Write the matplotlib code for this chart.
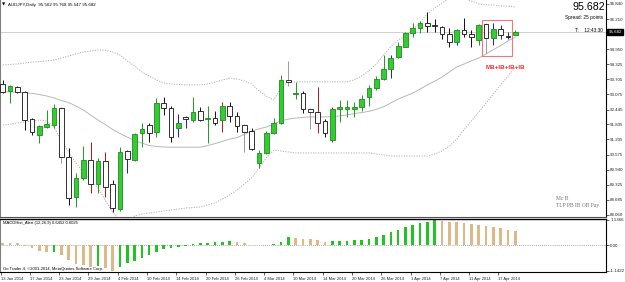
import numpy as np
import matplotlib.pyplot as plt
import matplotlib.transforms as mtrans
from matplotlib.patches import Rectangle

plt.rcParams['font.family'] = ['Liberation Sans', 'DejaVu Sans']

# AUDJPY daily candles, 13 Jan 2014 .. 21 Apr 2014
opens = [93.51, 93.23, 93.38, 93.18, 92.05, 91.39, 91.72, 91.80, 92.51, 90.47,
         88.81, 89.60, 90.35, 89.35, 90.31, 89.35, 88.31, 90.72, 90.35, 91.47,
         91.80, 91.51, 92.72, 92.51, 91.68, 92.14, 92.01, 92.37, 92.05, 92.09,
         92.01, 92.59, 92.18, 91.79, 91.55, 90.24, 90.64, 91.47, 91.89, 93.68,
         93.09, 93.15, 92.46, 92.36, 91.98, 91.18, 92.46, 92.48, 92.48, 92.54,
         92.96, 93.36, 93.70, 94.12, 94.62, 95.06, 95.62, 95.83, 96.06, 95.96,
         95.87, 95.59, 95.27, 95.76, 95.58, 95.34, 95.99, 95.41, 95.78, 95.51,
         95.562]
highs = [93.68, 93.47, 93.43, 93.22, 92.09, 91.80, 92.43, 92.68, 92.55, 90.85,
         89.81, 90.93, 91.10, 90.43, 90.68, 89.52, 90.89, 90.76, 91.47, 91.89,
         91.89, 92.93, 92.97, 92.59, 92.26, 92.18, 92.97, 92.55, 92.59, 92.40,
         92.77, 92.77, 92.36, 91.85, 91.68, 90.76, 91.55, 92.09, 93.88, 94.48,
         93.60, 93.22, 92.51, 93.40, 92.05, 92.54, 92.84, 92.84, 92.77, 93.05,
         93.47, 93.84, 94.72, 94.72, 95.27, 95.68, 96.03, 96.13, 96.52, 96.20,
         95.92, 95.83, 95.80, 96.24, 95.76, 96.00, 96.06, 96.03, 95.96, 95.68,
         95.768]
lows = [93.13, 92.72, 93.13, 91.60, 91.39, 91.05, 91.68, 91.68, 90.22, 88.48,
        88.39, 89.52, 88.97, 88.97, 88.81, 88.18, 88.23, 89.81, 90.31, 90.89,
        91.10, 91.30, 92.22, 91.10, 91.30, 91.68, 91.93, 91.97, 91.05, 91.80,
        91.52, 91.94, 91.52, 90.69, 90.76, 90.01, 90.60, 91.43, 91.85, 93.43,
        92.87, 92.29, 91.62, 91.48, 91.29, 91.11, 91.94, 92.15, 92.15, 92.40,
        92.59, 93.26, 93.68, 93.75, 94.59, 95.05, 95.45, 95.62, 95.68, 95.68,
        95.37, 95.03, 95.13, 95.48, 95.06, 95.13, 94.81, 95.13, 95.37, 95.37,
        95.547]
closes = [93.18, 93.43, 93.18, 92.01, 91.51, 91.76, 91.85, 92.51, 90.47, 88.77,
          89.60, 90.35, 89.35, 90.31, 89.22, 88.35, 90.68, 90.39, 91.43, 91.64,
          91.47, 92.72, 92.51, 91.30, 91.89, 92.05, 92.34, 92.03, 92.09, 91.90,
          92.59, 92.18, 91.76, 91.52, 90.81, 90.64, 91.47, 91.89, 93.68, 93.58,
          93.15, 92.46, 92.36, 91.90, 91.46, 92.46, 92.54, 92.54, 92.54, 92.87,
          93.36, 93.70, 94.12, 94.58, 95.08, 95.62, 95.83, 96.06, 95.93, 95.92,
          95.58, 95.27, 95.76, 95.58, 95.48, 95.96, 95.41, 95.78, 95.54, 95.48,
          95.682]

# bars whose wicks are coloured by the pattern indicator
blue_bars = [17, 24, 25, 53, 62, 67, 68, 69]
red_bars = [12, 14, 30, 43, 45]
grey_bars = [8, 33, 39, 42, 66]

# Bollinger bands (20)
bb_mid = [93.19, 93.18, 93.16, 93.14, 93.12, 93.07, 93.01, 92.93, 92.82, 92.74,
          92.59, 92.43, 92.22, 92.01, 91.82, 91.62, 91.45, 91.30, 91.16, 91.05,
          90.95, 90.91, 90.89, 90.88, 90.88, 90.88, 90.88, 90.88, 90.95, 91.03,
          91.12, 91.22, 91.28, 91.41, 91.55, 91.64, 91.72, 91.85, 91.97, 92.05,
          92.09, 92.12, 92.14, 92.14, 92.14, 92.15, 92.18, 92.22, 92.28, 92.32,
          92.37, 92.45, 92.56, 92.72, 92.88, 93.01, 93.13, 93.30, 93.47, 93.63,
          93.80, 94.01, 94.22, 94.34, 94.47, 94.59, 94.76, 94.94, 95.11, 95.30,
          95.46]
bb_up = [94.30, 94.32, 94.34, 94.38, 94.42, 94.44, 94.47, 94.51, 94.59, 94.67,
         94.76, 94.84, 94.88, 94.92, 94.92, 94.84, 94.72, 94.47, 94.26, 94.01,
         93.84, 93.68, 93.55, 93.51, 93.49, 93.47, 93.47, 93.47, 93.51, 93.59,
         93.68, 93.75, 93.72, 93.63, 93.51, 93.22, 93.01, 92.84, 93.35, 93.60,
         93.59, 93.60, 93.60, 93.60, 93.60, 93.60, 93.60, 93.60, 93.68, 93.84,
         94.05, 94.34, 94.72, 95.05, 95.34, 95.51, 95.76, 96.09, 96.42, 96.67,
         96.88, 97.09, 97.21, 97.09, 96.96, 96.84, 96.80, 96.80, 96.75, 96.75,
         96.71]
bb_low = [91.80, 91.84, 91.89, 91.93, 91.97, 92.01, 91.97, 91.72, 91.18, 90.68,
          90.22, 89.85, 89.52, 89.18, 88.68, 88.18, 87.85, 87.77, 88.02, 88.10,
          88.14, 88.18, 88.23, 88.27, 88.31, 88.35, 88.37, 88.39, 88.48, 88.56,
          88.73, 88.89, 89.10, 89.35, 89.60, 90.01, 90.43, 90.76, 90.72, 90.68,
          90.64, 90.64, 90.64, 90.64, 90.64, 90.64, 90.64, 90.64, 90.64, 90.64,
          90.64, 90.60, 90.56, 90.51, 90.51, 90.51, 90.51, 90.51, 90.51, 90.60,
          90.72, 90.93, 91.22, 91.60, 91.97, 92.34, 92.72, 93.09, 93.47, 93.84,
          94.22]

# MACD histogram
macd = [0.12, 0.10, 0.08, -0.02, -0.14, -0.27, -0.30, -0.28, -0.43, -0.67,
        -0.82, -0.88, -0.95, -0.91, -1.02, -1.1422, -0.95, -0.79, -0.72, -0.57,
        -0.42, -0.29, -0.17, -0.10, -0.06, -0.03, 0.07, 0.08, 0.12, 0.13,
        0.15, 0.19, 0.15, 0.10, 0.03, 0.02, 0.03, 0.06, 0.15, 0.36,
        0.33, 0.30, 0.28, 0.23, 0.16, 0.17, 0.20, 0.21, 0.22, 0.24,
        0.29, 0.37, 0.47, 0.59, 0.68, 0.80, 0.90, 0.97, 1.05, 1.1366,
        1.10, 1.04, 1.03, 0.99, 0.93, 0.92, 0.85, 0.82, 0.76, 0.70,
        0.6452]

date_labels = ['13 Jan 2014', '17 Jan 2014', '23 Jan 2014', '29 Jan 2014', '4 Feb 2014',
               '10 Feb 2014', '14 Feb 2014', '20 Feb 2014', '26 Feb 2014', '4 Mar 2014',
               '10 Mar 2014', '14 Mar 2014', '20 Mar 2014', '26 Mar 2014', '1 Apr 2014',
               '7 Apr 2014', '11 Apr 2014', '17 Apr 2014']
price_ticks = [96.840, 96.210, 94.950, 94.325, 93.705, 93.075, 92.445, 91.835,
               91.205, 90.575, 89.940, 89.325, 88.685, 88.060]
last_price = 95.682

x = np.arange(len(opens))
o = np.array(opens); c = np.array(closes)

fig = plt.figure(figsize=(6.25, 2.82), dpi=100)
ax = fig.add_axes([0.0, 0.2305, 0.9696, 0.7695])
am = fig.add_axes([0.0, 0.0355, 0.9696, 0.1879], sharex=ax)

# --- candles ---
bull = c >= o
wick_cols = []
for i in range(len(x)):
    if i in blue_bars:
        wick_cols.append('#1c1ccc')
    elif i in red_bars:
        wick_cols.append('#b01818')
    elif i in grey_bars:
        wick_cols.append('#9a9a9a')
    else:
        wick_cols.append('#1f9a1f' if bull[i] else '#111111')
ax.vlines(x, lows, highs, colors=wick_cols, lw=0.7, zorder=2)
body_h = np.maximum(np.abs(c - o), 0.012)
body_b = np.minimum(o, c)
ax.bar(x, body_h, bottom=body_b, width=0.64,
       color=np.where(bull, '#33cc33', '#ffffff'),
       edgecolor=np.where(bull, '#1e8c1e', '#111111'), lw=0.6, zorder=3)

# --- Bollinger bands ---
ax.plot(x, bb_mid, color='#b8b8b8', lw=0.7, zorder=1)
ax.plot(x, bb_up, color='#b0b0b0', lw=0.7, ls=(0, (1.2, 1.4)), zorder=1)
ax.plot(x, bb_low, color='#b0b0b0', lw=0.7, ls=(0, (1.2, 1.4)), zorder=1)

ax.axhline(last_price, color='#c8c8c8', lw=0.6, zorder=0)

# pattern box + label
ax.add_patch(Rectangle((65.45, 94.67), 4.1, 1.50, fill=False, ec='#f07878', lw=0.8, zorder=4))
ax.text(68.6, 94.21, 'MB+IB+IB+IB', color='#ff2a2a', fontsize=4.5, fontweight='bold',
        ha='center', va='center')

ax.set_xlim(-0.369, 82.38)
ax.set_ylim(87.976, 97.003)
ax.yaxis.tick_right()
ax.set_yticks(price_ticks)
ax.set_yticklabels([f'{v:.3f}' for v in price_ticks])
ax.tick_params(axis='y', labelsize=3.2, length=2, width=0.5, pad=1, colors='#222222')
ax.tick_params(axis='x', bottom=False, labelbottom=False)
ax.spines['top'].set_visible(False)
ax.spines['left'].set_color('#808080')
ax.spines['bottom'].set_color('#505050')
ax.spines['right'].set_color('#000000')
for s in ax.spines.values():
    s.set_linewidth(0.8)

trans = mtrans.blended_transform_factory(ax.transAxes, ax.transData)
ax.text(1.004, last_price, f'{last_price:.3f}', transform=trans, fontsize=3.2,
        color='white', va='center', ha='left', zorder=6,
        bbox=dict(boxstyle='square,pad=0.25', fc='black', ec='black'))

# --- MACD panel ---
mv = np.array(macd)
rising = np.concatenate([[False], mv[1:] > mv[:-1]])
am.bar(x, mv, width=0.36, color=np.where(rising, '#22c422', '#deb887'), zorder=2)
am.axhline(0, color='#8a8a8a', lw=0.6, ls=(0, (1, 1.5)), zorder=1)
am.set_ylim(-1.19, 1.17)
am.yaxis.tick_right()
am.set_yticks([1.1366, 0.0, -1.1422])
am.set_yticklabels(['1.1366', '0.00', '-1.1422'])
am.tick_params(axis='y', labelsize=3.2, length=2, width=0.5, pad=1, colors='#222222')
am.set_xticks([4 * k - 0.3 for k in range(len(date_labels))])
am.set_xticklabels(date_labels, ha='left')
am.tick_params(axis='x', labelsize=3.0, length=2, width=0.5, pad=1.5, colors='#222222')
am.spines['top'].set_linewidth(1.0)
am.spines['top'].set_color('#000000')
am.spines['left'].set_color('#808080')
for s in ['bottom', 'right']:
    am.spines[s].set_color('#000000')
    am.spines[s].set_linewidth(0.8)

# --- text overlays ---
def fx(px):
    return px / 625.0

def fy(py):
    return 1 - py / 282.0

fig.text(fx(2), fy(5), '\u25bc', fontsize=3.0, family='DejaVu Sans', va='center')
fig.text(fx(8), fy(5), 'AUDJPY,Daily  95.562 95.768 95.547 95.682', fontsize=3.2, va='center')
fig.text(fx(605), fy(7.5), '95.682', fontsize=7.7, ha='right', va='center')
fig.text(fx(603), fy(18), 'Spread: 25 points', fontsize=3.4, ha='right', va='center')
fig.text(fx(603), fy(30), 'T:    12:43:30', fontsize=3.4, ha='right', va='center')
fig.text(fx(556), fy(198), 'Mc B', fontsize=4.0, family='Liberation Serif',
         color='#707070', va='center')
fig.text(fx(556), fy(205.5), 'TLP PB IB OB Pay', fontsize=4.0, family='Liberation Serif',
         color='#707070', va='center')
fig.text(fx(3), fy(223), 'MACDHist_Alert (12,26,9) 0.6452 0.6025', fontsize=3.0, va='center')
fig.text(fx(3), fy(269), 'Go Trader 4, \u00a92001-2014, MetaQuotes Software Corp.',
         fontsize=3.0, va='center')

plt.savefig('out.png', dpi=100)
